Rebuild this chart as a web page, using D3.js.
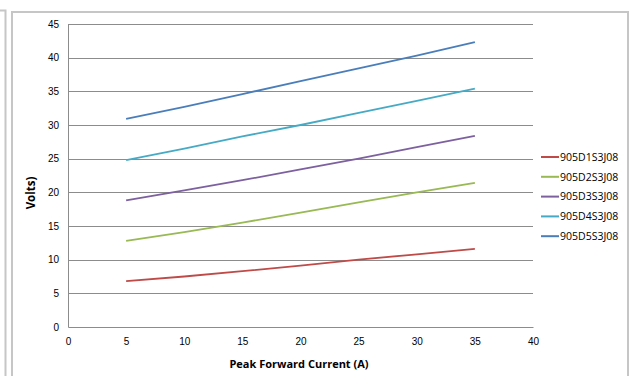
<!DOCTYPE html>
<html>
<head>
<meta charset="utf-8">
<script src="https://cdn.jsdelivr.net/npm/d3@7"></script>
<style>
  body { margin: 0; background: #fff; }
  svg { display: block; font-family: "Open Sans", "Noto Sans", sans-serif; }
  .grid line { stroke: #8c8c8c; stroke-width: 1; }
  .tick text { fill: #000; font-size: 10px; }
</style>
</head>
<body>
<div id="chart"></div>
<script>
// peak forward current (A)
var current = [5, 10, 15, 20, 25, 30, 35];
var seriesNames = ["905D1S3J08", "905D2S3J08", "905D3S3J08", "905D4S3J08", "905D5S3J08"];
var seriesColors = ["#be4b48", "#98b954", "#7d60a0", "#46aac5", "#4a7ebb"];
var d1 = [6.8, 7.5, 8.3, 9.1, 10.0, 10.8, 11.6];
var d2 = [12.8, 14.1, 15.5, 17.0, 18.5, 20.0, 21.4];
var d3v = [18.8, 20.3, 21.8, 23.4, 25.0, 26.7, 28.4];
var d4 = [24.8, 26.5, 28.3, 30.0, 31.8, 33.6, 35.4];
var d5 = [30.9, 32.7, 34.6, 36.5, 38.4, 40.3, 42.3];
var xTicks = [0, 5, 10, 15, 20, 25, 30, 35, 40];
var yTicks = [0, 5, 10, 15, 20, 25, 30, 35, 40, 45];

var allSeries = [d1, d2, d3v, d4, d5];

var W = 635, H = 376;
var margin = { left: 68, top: 24, right: 102, bottom: 49 };
var width = W - margin.left - margin.right,
    height = H - margin.top - margin.bottom;

var svg = d3.select("#chart").append("svg").attr("width", W).attr("height", H);

// frames
svg.append("path").attr("d", "M0,10.5 H5.5 V376").attr("fill", "none")
  .attr("stroke", "#c6c6c6").attr("stroke-width", 2);
svg.append("path").attr("d", "M12,376 V12 H628 V376").attr("fill", "none")
  .attr("stroke", "#c6c6c6").attr("stroke-width", 2);

var g = svg.append("g").attr("transform", "translate(" + margin.left + "," + margin.top + ")");

var x = d3.scaleLinear().domain([0, 40]).range([0, width]);
var y = d3.scaleLinear().domain([0, 45]).range([height, 0]);

// gridlines
g.append("g").attr("class", "grid")
  .selectAll("line").data(yTicks.slice(1)).enter().append("line")
  .attr("x1", 0).attr("x2", width)
  .attr("y1", function (d) { return Math.round(y(d)) + 0.5; })
  .attr("y2", function (d) { return Math.round(y(d)) + 0.5; });

var yAxis = g.append("g")
  .call(d3.axisLeft(y).tickValues(yTicks).tickSize(0).tickPadding(9));
yAxis.select(".domain").attr("stroke", "#8c8c8c");

var xAxis = g.append("g").attr("transform", "translate(0," + height + ")")
  .call(d3.axisBottom(x).tickValues(xTicks).tickSize(0).tickPadding(11));
xAxis.select(".domain").attr("stroke", "#8c8c8c");

var line = d3.line()
  .x(function (d, i) { return x(current[i]); })
  .y(function (d) { return y(d); });

g.selectAll(".series").data(allSeries).enter().append("path")
  .attr("class", "series")
  .attr("fill", "none")
  .attr("stroke-width", 1.8)
  .attr("stroke", function (d, i) { return seriesColors[i]; })
  .attr("d", line);

// axis titles
svg.append("text")
  .attr("x", 299).attr("y", 368)
  .attr("text-anchor", "middle")
  .style("font-size", "11px").style("font-weight", "bold")
  .text("Peak Forward Current (A)");

svg.append("text")
  .attr("transform", "translate(35,193) rotate(-90)")
  .attr("text-anchor", "middle")
  .style("font-size", "11.5px").style("font-weight", "bold")
  .text("Volts)");

// legend
var legend = svg.append("g").attr("transform", "translate(541,157)");
var item = legend.selectAll("g").data(seriesNames).enter().append("g")
  .attr("transform", function (d, i) { return "translate(0," + (i * 19.8) + ")"; });
item.append("line").attr("x1", 0).attr("x2", 18).attr("y1", 0).attr("y2", 0)
  .attr("stroke-width", 2)
  .attr("stroke", function (d, i) { return seriesColors[i]; });
item.append("text").attr("x", 19).attr("y", 3.8)
  .style("font-size", "10.5px")
  .text(function (d) { return d; });
</script>
</body>
</html>
